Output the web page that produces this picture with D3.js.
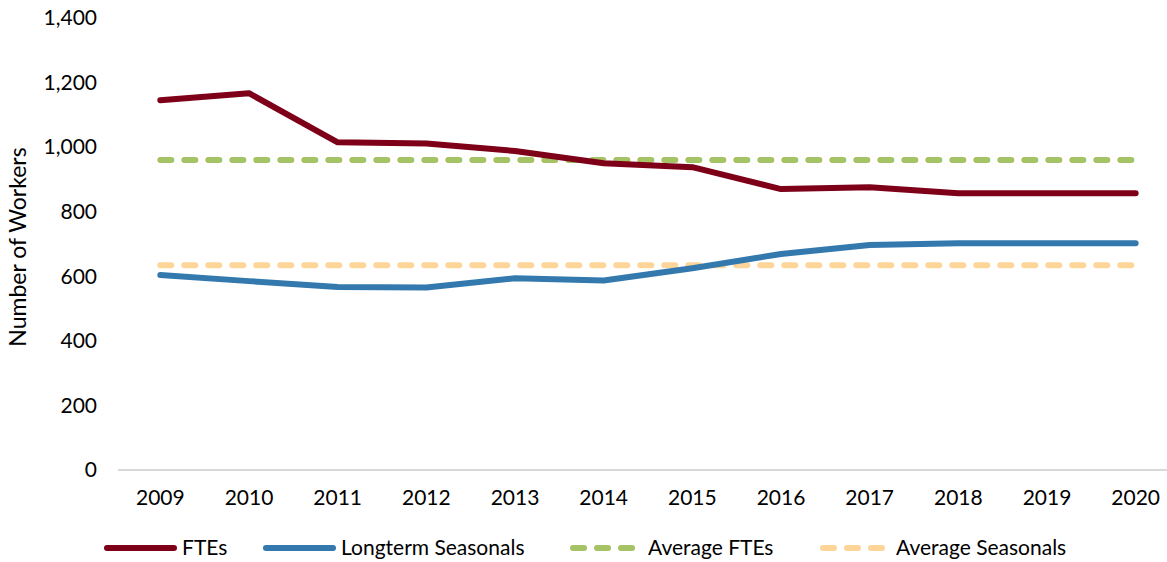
<!DOCTYPE html>
<html>
<head>
<meta charset="utf-8">
<script src="https://cdn.jsdelivr.net/npm/d3@7"></script>
<style>
  body { margin: 0; background: #fff; }
  text { font-family: Lato, "Liberation Sans", sans-serif; fill: #000; }
</style>
</head>
<body>
<div id="chart"></div>
<script>
// data
var years = ["2009","2010","2011","2012","2013","2014","2015","2016","2017","2018","2019","2020"]
var ftes = [1145, 1167, 1015, 1011, 988, 950, 938, 870, 876, 857, 857, 857]
var longterm = [604, 585, 567, 565, 594, 587, 625, 669, 697, 702, 702, 702]
var avgFtes = [960, 960, 960, 960, 960, 960, 960, 960, 960, 960, 960, 960]
var avgSeasonals = [634, 634, 634, 634, 634, 634, 634, 634, 634, 634, 634, 634]
var yTicks = [0, 200, 400, 600, 800, 1000, 1200, 1400]

var W = 1167, H = 562
var series = [
    {name: "FTEs", values: ftes, color: "#7e0018", dash: null, lx: 104, tx: 182},
    {name: "Longterm Seasonals", values: longterm, color: "#3379ad", dash: null, lx: 263, tx: 341},
    {name: "Average FTEs", values: avgFtes, color: "#a5c364", dash: "11,13", lx: 570, tx: 648},
    {name: "Average Seasonals", values: avgSeasonals, color: "#fed599", dash: "11,13", lx: 820, tx: 896}
]

var svg = d3.select("#chart").append("svg")
    .attr("width", W)
    .attr("height", H)

var x = d3.scalePoint()
    .domain(years)
    .range([116, 1180])
    .padding(0.5)
var y = d3.scaleLinear()
    .domain([0, 1400])
    .range([470, 18])

// x axis line
svg.append("line")
    .attr("x1", 118).attr("x2", 1180)
    .attr("y1", y(0)).attr("y2", y(0))
    .attr("stroke", "#d9d9d9")
    .attr("stroke-width", 2)

// x labels
svg.append("g").selectAll("text")
    .data(years)
    .join("text")
    .attr("x", d => x(d))
    .attr("y", 505)
    .attr("text-anchor", "middle")
    .style("font-size", "21px")
    .text(d => d)

// y labels
svg.append("g").selectAll("text")
    .data(yTicks)
    .join("text")
    .attr("x", 97)
    .attr("y", d => y(d))
    .attr("dy", "0.35em")
    .attr("text-anchor", "end")
    .style("font-size", "21px")
    .text(d => d3.format(",")(d))

svg.append("text")
    .attr("transform", "translate(26,247) rotate(-90)")
    .attr("text-anchor", "middle")
    .style("font-size", "23px")
    .text("Number of Workers")

var line = d3.line()
    .x((d, i) => x(years[i]))
    .y(d => y(d))

// draw the dashed averages first, solid lines on top
var order = [series[2], series[3], series[0], series[1]]
svg.append("g").selectAll("path")
    .data(order)
    .join("path")
    .attr("d", d => line(d.values))
    .attr("fill", "none")
    .attr("stroke", d => d.color)
    .attr("stroke-width", 6)
    .attr("stroke-linecap", "round")
    .attr("stroke-linejoin", "round")
    .attr("stroke-dasharray", d => d.dash)

// legend
var leg = svg.append("g")
leg.selectAll("line")
    .data(series)
    .join("line")
    .attr("x1", d => d.lx + 3)
    .attr("x2", d => d.dash ? d.lx + 66 : d.lx + 70)
    .attr("y1", 548).attr("y2", 548)
    .attr("stroke", d => d.color)
    .attr("stroke-width", 6)
    .attr("stroke-linecap", "round")
    .attr("stroke-dasharray", d => d.dash)
leg.selectAll("text")
    .data(series)
    .join("text")
    .attr("x", d => d.tx)
    .attr("y", 548)
    .attr("dy", "0.35em")
    .style("font-size", "21px")
    .text(d => d.name)
</script>
</body>
</html>
